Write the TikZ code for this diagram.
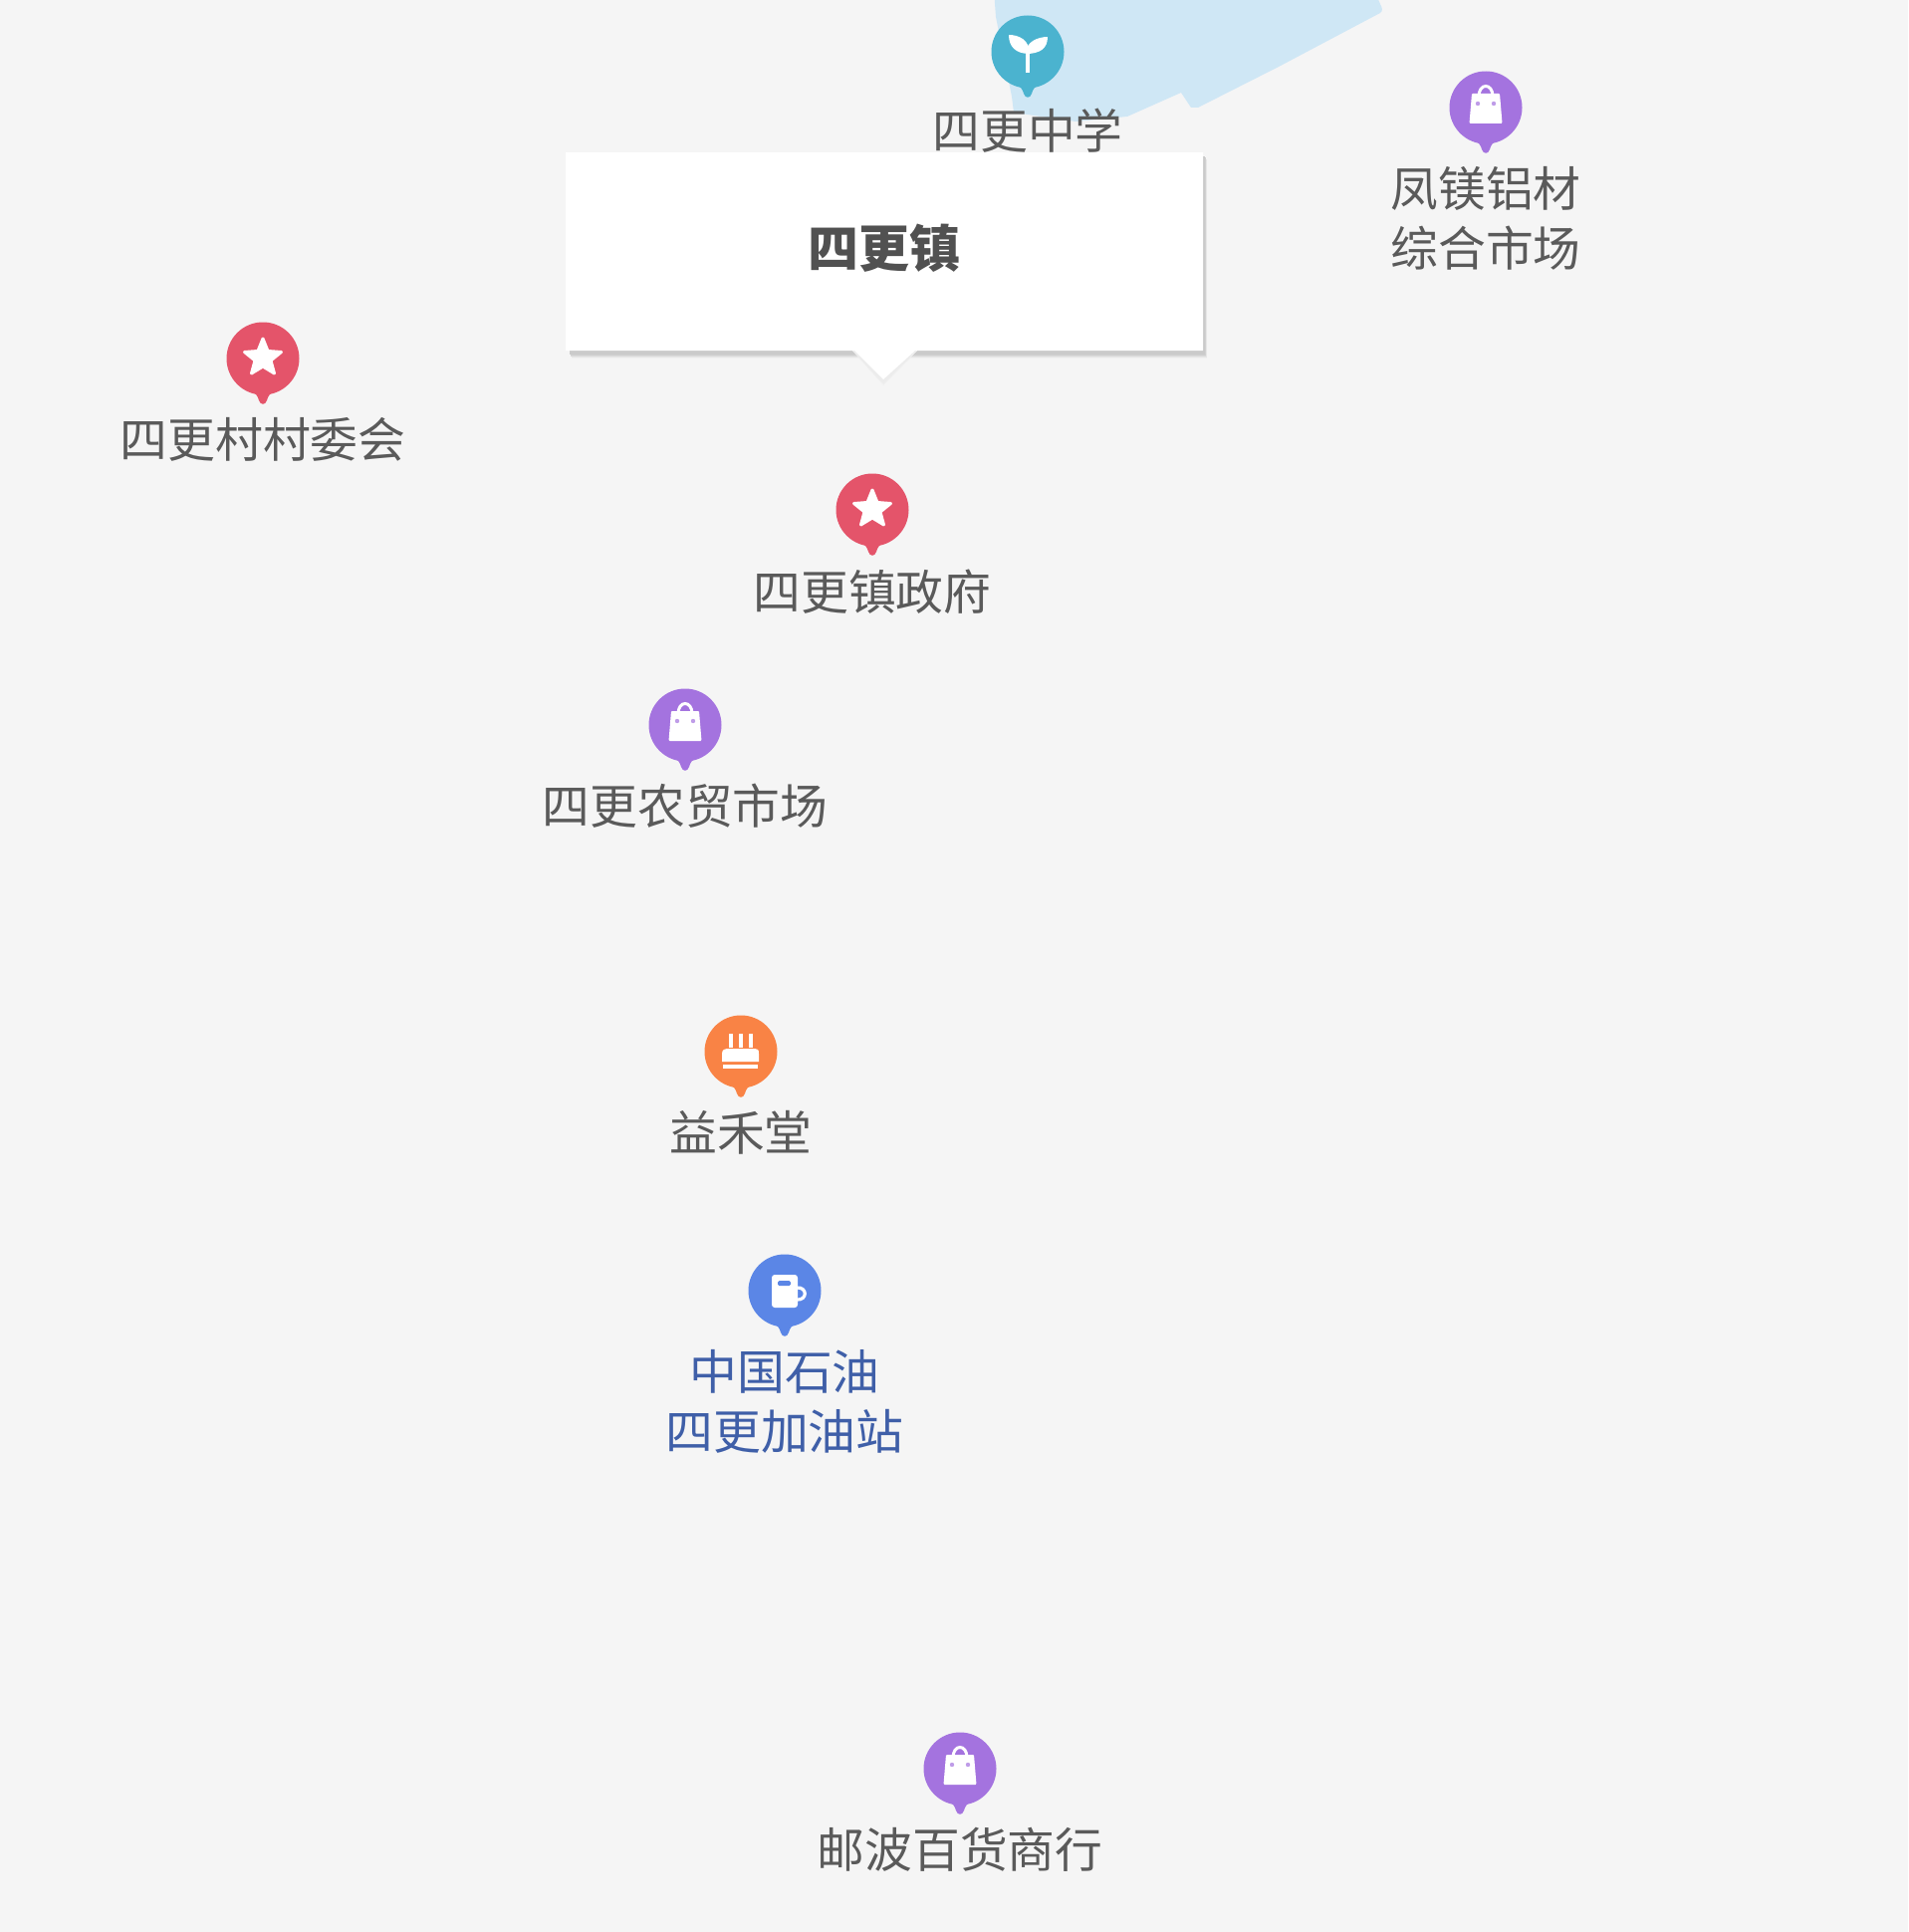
\documentclass[tikz,border=0pt]{standalone}
\usepackage{fontspec}
\setmainfont{Noto Sans CJK SC}
\definecolor{bgc}{HTML}{F5F5F5}
\definecolor{waterc}{HTML}{CFE7F5}
\definecolor{textc}{HTML}{5A5A5A}
\definecolor{bluetext}{HTML}{3F5FA8}
\definecolor{tealc}{HTML}{4BB3CF}
\definecolor{purplec}{HTML}{A473DF}
\definecolor{redc}{HTML}{E4546A}
\definecolor{orangec}{HTML}{F98345}
\definecolor{bluec}{HTML}{5B86E6}
\tikzset{
  x=1pt,y=-1pt,
  poilabel/.style={text=textc,align=center,inner sep=0pt,font=\fontsize{47.8}{60}\selectfont},
  bluelabel/.style={poilabel,text=bluetext},
  titletext/.style={text=textc!90!black,inner sep=0pt,font=\fontsize{51}{60}\selectfont\bfseries},
  pinhead/.style={circle,fill=#1,draw=none,minimum size=73pt,inner sep=0pt},
  pintip/.pic={\fill[pic actions] (-12,32) .. controls (-7,35) and (-5,38) .. (-4,42) .. controls (-2.5,47) and (2.5,47) .. (4,42) .. controls (5,38) and (7,35) .. (12,32) -- cycle;},
  staricon/.pic={\fill[white,draw=white,line width=3pt,line join=round]
     (0,-20) -- (5,-7.5) -- (18.5,-6.5) -- (8,2) -- (11.5,15) -- (0,8) -- (-11.5,15) -- (-8,2) -- (-18.5,-6.5) -- (-5,-7.5) -- cycle;},
  bagicon/.pic={
     \draw[white,line width=3pt] (-7,-11) .. controls (-7,-25) and (7,-25) .. (7,-11);
     \fill[white,rounded corners=1pt] (-14,-14) -- (14,-14) -- (16.5,16) -- (-16.5,16) -- cycle;
     \fill[pic actions,fill opacity=.7] (-8,-4) circle (2.2) (8,-4) circle (2.2);},
  sprouticon/.pic={
     \draw[white,line width=4pt] (0,-4) -- (0,21);
     \fill[white] (2,2) .. controls (-12,2) and (-19,-5) .. (-19,-17) .. controls (-9,-17) and (2,-12) .. (2,2) -- cycle;
     \fill[white] (-2,2) .. controls (12,2) and (20,-3) .. (20,-15) .. controls (10,-15) and (-2,-10) .. (-2,2) -- cycle;},
  cakeicon/.pic={
     \fill[white] (-19,10) -- (-19,2) .. controls (-19,-2) and (-16,-3) .. (-14,-3) -- (14,-3) .. controls (17,-3) and (18,-2) .. (18,2) -- (18,10) -- cycle;
     \fill[white] (-18,12.5) rectangle (17,17);
     \foreach \cx in {-10,0,10}{\fill[white] (\cx-1.6,-18) rectangle (\cx+1.6,-4);}},
  pumpicon/.pic={
     \fill[white,rounded corners=3pt] (-13,17) -- (-13,-16) -- (13,-16) -- (13,17) -- cycle;
     \fill[pic actions,rounded corners=1.5pt] (-7,-10) rectangle (6,-5);
     \draw[white,line width=3.2pt] (12,-3) .. controls (23,-4) and (23,10) .. (12,9);},
}
\begin{document}
\begin{tikzpicture}
\useasboundingbox (0,0) rectangle (1916,1940);
\fill[bgc] (0,0) rectangle (1916,1940);
% water
\fill[waterc] (998,-10) -- (1000,17) -- (1016,97) -- (1018,113) -- (1080,122) -- (1132,117) -- (1186,93) -- (1196,108) -- (1203,108) -- (1284,67) -- (1386,13) .. controls (1389,11) and (1388,8) .. (1386,4) -- (1380,-10) -- cycle;
% pins
\node[pinhead=tealc] (school) at (1032,52) {};
\pic[fill=tealc] at (1032,52) {pintip};
\pic at (1032,52) {sprouticon};
\node[poilabel] (schooltext) at (1032,131) {四更中学};

\node[pinhead=purplec] (alu) at (1492,108) {};
\pic[fill=purplec] at (1492,108) {pintip};
\pic[fill=purplec] at (1492,108) {bagicon};
\node[poilabel] (alutext) at (1492,219) {凤镁铝材\\综合市场};

\node[pinhead=redc] (village) at (264,360) {};
\pic[fill=redc] at (264,360) {pintip};
\pic at (264,360) {staricon};
\node[poilabel] (villagetext) at (264,441) {四更村村委会};

\node[pinhead=redc] (gov) at (876,512) {};
\pic[fill=redc] at (876,512) {pintip};
\pic at (876,512) {staricon};
\node[poilabel] (govtext) at (876,594) {四更镇政府};

\node[pinhead=purplec] (market) at (688,728) {};
\pic[fill=purplec] at (688,728) {pintip};
\pic[fill=purplec] at (688,728) {bagicon};
\node[poilabel] (markettext) at (688,809) {四更农贸市场};

\node[pinhead=orangec] (cake) at (744,1056) {};
\pic[fill=orangec] at (744,1056) {pintip};
\pic at (744,1056) {cakeicon};
\node[poilabel] (caketext) at (744,1137) {益禾堂};

\node[pinhead=bluec] (fuel) at (788,1296) {};
\pic[fill=bluec] at (788,1296) {pintip};
\pic[fill=bluec] at (788,1296) {pumpicon};
\node[bluelabel] (fueltext) at (788,1407) {中国石油\\四更加油站};

\node[pinhead=purplec] (shop) at (964,1776) {};
\pic[fill=purplec] at (964,1776) {pintip};
\pic[fill=purplec] at (964,1776) {bagicon};
\node[poilabel] (shoptext) at (964,1857) {邮波百货商行};

% callout with soft shadow: box bands, then lighter bands round the pointer
\foreach \o/\c in {8/F0F0F0,7/E6E6E6,6/DADADA,5/D0D0D0,4/CACACA}{
  \definecolor{shadowc}{HTML}{\c}
  \fill[shadowc] (570+\o/2,153+\o) rectangle (1208+\o/2,352+\o);
}
\foreach \o/\c in {12/F2F2F2,8/EEEEEE,4/ECECEC}{
  \definecolor{shadowc}{HTML}{\c}
  \fill[shadowc] (856,352) -- (887,384+\o/4) -- (921,352) -- cycle;
}
\fill[white] (568,153) -- (1208,153) -- (1208,352) -- (919,352) -- (887,381) -- (858,352) -- (568,352) -- cycle;
\node[titletext] (title) at (888,249) {四更镇};
\end{tikzpicture}
\end{document}
